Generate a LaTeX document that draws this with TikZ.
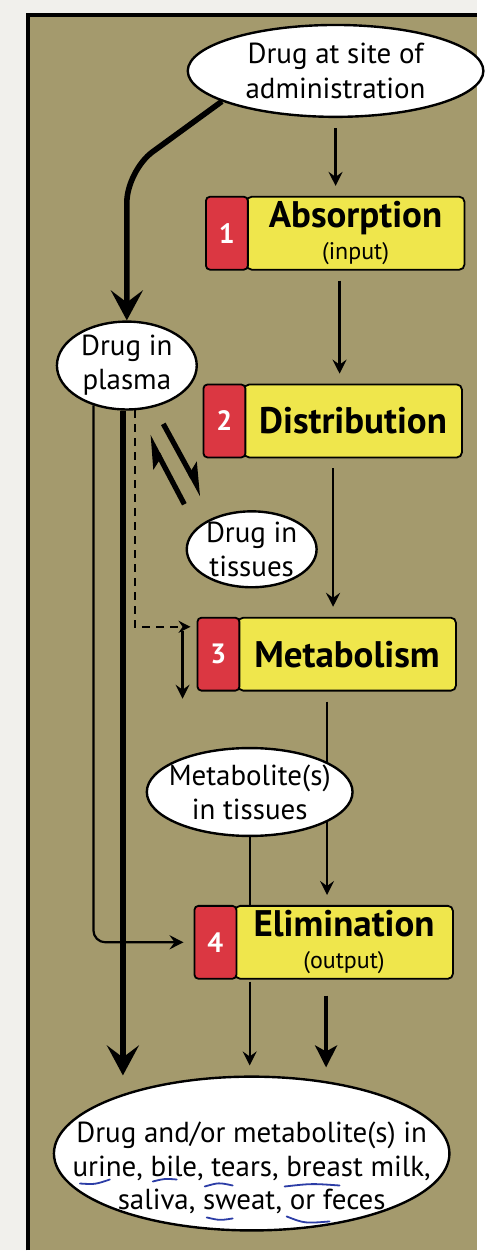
\documentclass[tikz,border=0pt]{standalone}
\usepackage{fontspec}
\setmainfont{PT Sans}
\usepackage{xcolor}
\usetikzlibrary{arrows.meta, calc, shapes.geometric}
\definecolor{PanelTan}{HTML}{A49A6D}
\definecolor{PageGrey}{HTML}{F1F0EC}
\definecolor{StageYellow}{HTML}{EFE64C}
\definecolor{StageRed}{HTML}{DB3742}
\definecolor{PenBlue}{HTML}{2C3DA6}

\begin{document}
\begin{tikzpicture}[x=0.5pt, y=-0.5pt, >=Stealth,
    blob/.style={ellipse, draw, line width=1.2pt, fill=white, align=center,
        inner xsep=-60pt, inner ysep=-30pt, font=\fontsize{14.5}{17}\selectfont},
    stagebox/.style={rectangle, rounded corners=2.5pt, draw, line width=0.9pt,
        fill=StageYellow, minimum width=109pt, minimum height=36.5pt, inner sep=0pt,
        align=center, font=\bfseries\fontsize{18.5}{18}\selectfont},
    stagenum/.style={rectangle, rounded corners=2pt, draw, line width=0.9pt,
        fill=StageRed, minimum width=21pt, minimum height=36.5pt, inner sep=0pt,
        text=white, font=\bfseries\fontsize{14}{14}\selectfont},
    flowline/.style={line width=1.1pt},
    flowarrow/.style={line width=1.1pt, -{Stealth[length=7pt, width=7pt, inset=2.5pt]},
        shorten <=5pt, shorten >=5pt},
    midarrow/.style={line width=2.4pt, -{Stealth[length=11pt, width=11pt, inset=3pt]},
        shorten <=8pt, shorten >=4pt},
    bigarrow/.style={line width=2.8pt, -{Stealth[length=15pt, width=16pt, inset=6pt]}},
    swaparrow/.style={line width=2.6pt, -{Stealth[harpoon, length=13pt, width=11pt, inset=3pt]}},
    dasharrow/.style={line width=0.9pt, dash pattern=on 4pt off 3pt,
        -{Stealth[length=6pt, width=6pt, inset=2pt]}, shorten >=3pt},
    penmark/.style={PenBlue, line width=0.9pt, line cap=round}
]
    % Page and panel
    \fill[PageGrey] (0,0) rectangle (478,1252);
    \fill[PanelTan] (28,15) rectangle (478,1252);
    \draw[line width=1.6pt] (28,1252) -- (28,15) -- (478,15);

    % Drug at the start
    \node[blob, minimum width=148pt, minimum height=46pt, font=\fontsize{14.5}{18}\selectfont]
        (site) at (336,71) {Drug at site of\\administration};

    % The four stages
    \node[stagebox] (abs) at (356,233.5)
        {Absorption\\[-2pt]{\normalfont\fontsize{12}{12}\selectfont(input)}};
    \node[stagenum, anchor=east, xshift=1.5pt] (num1) at (abs.west) {1};
    \node[stagebox] (dist) at (353.5,421.5) {Distribution};
    \node[stagenum, anchor=east, xshift=1.5pt] (num2) at (dist.west) {2};
    \node[stagebox] (meta) at (347.5,655) {Metabolism};
    \node[stagenum, anchor=east, xshift=1.5pt] (num3) at (meta.west) {3};
    \node[stagebox] (elim) at (344.5,943.5)
        {Elimination\\[-2pt]{\normalfont\fontsize{12}{12}\selectfont(output)}};
    \node[stagenum, anchor=east, xshift=1.5pt] (num4) at (elim.west) {4};

    % Drug in the body
    \node[blob, minimum width=70pt, minimum height=44pt] (plasma) at (127,366)
        {Drug in\\plasma};
    \node[blob, minimum width=65pt, minimum height=38pt] (tissues) at (252,550)
        {Drug in\\tissues};

    % Down the stages
    \draw[flowarrow] (site.south) -- (site.south |- abs.north);
    \draw[flowarrow] ([xshift=-8pt]abs.south) -- ([xshift=-8pt]abs.south |- dist.north);
    \draw[flowarrow] ([xshift=-10pt]dist.south) -- ([xshift=-10pt]dist.south |- meta.north);
    \draw[flowarrow] ([xshift=-10pt]meta.south) -- ([xshift=-10pt]meta.south |- elim.north);

    % Metabolites and what leaves the body
    \node[blob, minimum width=103pt, minimum height=44pt] (metab) at (250,793)
        {Metabolite(s)\\in tissues};
    \node[blob, minimum width=198pt, minimum height=77pt, text height=60pt, text depth=3.5pt]
        (final) at (252,1155)
        {Drug and/or metabolite(s) in\\urine, bile, tears, breast milk,\\saliva, sweat, or feces};

    % Site to plasma
    \draw[bigarrow, rounded corners=16pt] (site.195) -- ($(plasma.north)+(0,-150)$) -- (plasma.north);

    % Plasma and tissues exchange
    \draw[swaparrow] ([shift={(12,16)}]plasma.-60) -- ([shift={(-28,-17)}]tissues.120);
    \draw[swaparrow] ([shift={(-46,-8)}]tissues.120) -- ([shift={(-3,28)}]plasma.-60);

    % Plasma to metabolism (dashed) and on
    \draw[dasharrow] (plasma.-80) |- ([yshift=-5pt]num3.north west);
    \draw[flowarrow, shorten <=0pt, shorten >=0pt] ([shift={(-14,14)}]num3.north west) -- ++(0,68);

    % Plasma to elimination
    \draw[flowarrow, rounded corners=6pt, shorten <=0pt] (plasma.230) |- (num4.west);

    % Out of the body
    \draw[bigarrow] (plasma.-95) -- (plasma.-95 |- final.north);
    \draw[flowline] (metab.south) -- (metab.south |- elim.north);
    \draw[flowarrow, shorten <=1pt] (metab.south |- elim.south) -- (metab.south |- final.north);
    \draw[midarrow] ([xshift=-9pt]elim.south) -- ([xshift=-9pt]elim.south |- final.north);

    % Pen marks on the last ellipse
    \draw[penmark] (80,1185) .. controls (95,1186) .. (110,1181);
    \draw[penmark] (153,1183) .. controls (165,1180) .. (177,1181);
    \draw[penmark] (205,1188) .. controls (219,1184) .. (233,1187);
    \draw[penmark] (207,1219) .. controls (220,1222) .. (233,1220);
    \draw[penmark] (285,1188) .. controls (312,1185) .. (340,1187);
    \draw[penmark] (287,1218) .. controls (305,1225) .. (330,1223);
\end{tikzpicture}
\end{document}
